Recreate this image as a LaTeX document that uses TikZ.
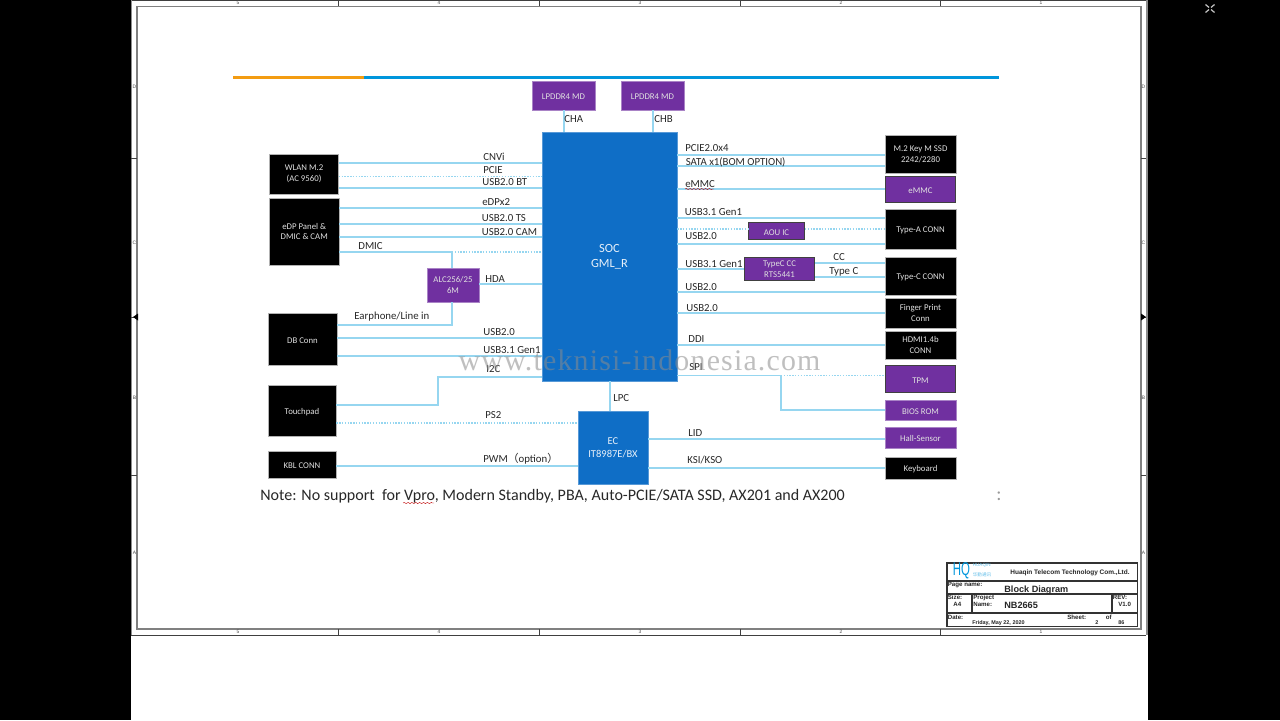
\documentclass[tikz,border=0pt]{standalone}
\usepackage{fontspec}
\setmainfont{Carlito}
\newfontfamily\arialfont{Liberation Sans}
\newfontfamily\markfont[LetterSpace=4]{Liberation Serif}
\newfontfamily\cjkfont{Noto Sans CJK SC}
\usetikzlibrary{calc, arrows.meta, decorations.pathmorphing}
\definecolor{socblue}{RGB}{15,110,198}
\definecolor{icpurple}{RGB}{112,48,160}
\definecolor{linkblue}{RGB}{150,214,240}
\definecolor{barblue}{RGB}{0,150,220}
\definecolor{barorange}{RGB}{243,156,18}
\definecolor{labelgray}{RGB}{40,40,40}
\tikzset{
    x=0.02cm, y=-0.02cm,
    link/.style={draw=linkblue, line width=0.7pt},
    dotlink/.style={link, dash pattern=on 0.8pt off 0.8pt},
    blackbox/.style={fill=black, text=white!88!black, draw=gray!60, line width=0.4pt, align=center, font=\fontsize{5}{6.2}\selectfont, execute at begin node={\rule{0pt}{5pt}}},
    purplebox/.style={blackbox, fill=icpurple, draw=icpurple!60},
    purpleedge/.style={purplebox, draw=black!75, line width=0.6pt},
    bluebox/.style={fill=socblue, draw=socblue!70, line width=0.4pt, text=white!90!socblue, align=center, execute at begin node={\rule{0pt}{6pt}}},
    siglabel/.style={anchor=west, inner sep=0pt, text=labelgray, font=\fontsize{6.15}{7}\selectfont},
    squiggle/.style={draw=red!75!black, line width=0.25pt, decorate, decoration={snake, amplitude=0.3pt, segment length=2.2pt}},
    framedraw/.style={draw=black!75, line width=0.45pt},
    zonetext/.style={inner sep=0pt, text=black!70, font=\fontsize{2.8}{3}\selectfont\arialfont},
    tbtext/.style={anchor=west, inner sep=0pt, text=black!85, font=\fontsize{3.5}{4}\selectfont\bfseries\arialfont},
    tbsmall/.style={tbtext, font=\fontsize{3.1}{3.6}\selectfont\bfseries\arialfont},
    tbbig/.style={tbtext, font=\fontsize{5.2}{6}\selectfont\bfseries\arialfont},
    tbline/.style={draw=black!80, line width=0.6pt}
}
% box from its corners, in reference pixels
\newcommand{\blockat}[6]{%
    \node[#1, inner sep=0pt, minimum width={(#4-#3)*0.02cm}, minimum height={(#6-#5)*0.02cm}] (#2) at ({(#3+#4)/2},{(#5+#6)/2})}
\begin{document}
\begin{tikzpicture}
    \useasboundingbox (0,0) rectangle (1280,720);
    \fill[black] (0,0) rectangle (1280,720);
    \fill[white] (131,0) rectangle (1148,720);

    % sheet frame
    \draw[framedraw] (131,0.5) -- (1146,0.5) (131,635) -- (1146,635);
    \draw[draw=black!50, line width=1.1pt] (137,6.5) rectangle (1141,629);
    \fill[black!45] (1146,0) rectangle (1148,635);
    \fill[black!45] (131,0) rectangle (132,635);
    \foreach \x in {338,539,740,940}{
        \draw[framedraw] (\x,0) -- (\x,6);
        \draw[framedraw] (\x,629) -- (\x,635);
    }
    \foreach \y in {158,317,475}{
        \draw[framedraw] (131,\y) -- (137,\y);
        \draw[framedraw] (1141,\y) -- (1146,\y);
    }
    \foreach \x/\t in {238/5,439/4,640/3,841/2,1041/1}{
        \node[zonetext] (top\t) at (\x,3) {\t};
        \node[zonetext] (bot\t) at (\x,632) {\t};
    }
    \foreach \y/\t in {87/D,243/C,398/B,553/A}{
        \node[zonetext] (lft\t) at (134.5,\y) {\t};
        \node[zonetext] (rgt\t) at (1143.5,\y) {\t};
    }
    \fill[black] (133,317) -- (138,313.5) -- (138,320.5) -- cycle;
    \fill[black] (1146,317) -- (1141,313.5) -- (1141,320.5) -- cycle;

    % corner icon on the dark side
    \foreach \sx/\sy in {-1/-1,1/-1,-1/1,1/1}{
        \draw[white!75!black, line width=0.7pt] (1210+\sx*1,8.5+\sy*1) -- (1210+\sx*4.5,8.5+\sy*4);
    }

    % title bars
    \draw[barorange, line width=2pt] (233,77.5) -- (364,77.5);
    \draw[barblue, line width=2pt] (364,77.5) -- (999,77.5);

    % left side boxes
    \blockat{blackbox}{wlan}{269.5}{338.5}{154}{194} {WLAN M.2\\(AC 9560)};
    \blockat{blackbox}{edp}{269.5}{339}{198}{265} {eDP Panel \&\\DMIC \& CAM};
    \blockat{purplebox}{alc}{427}{479}{268}{302} {ALC256/25\\6M};
    \blockat{blackbox}{dbconn}{268}{337}{313}{365} {DB Conn};
    \blockat{blackbox}{touchpad}{268}{336}{385}{436} {Touchpad};
    \blockat{blackbox}{kbl}{268}{336}{451}{478} {KBL CONN};

    % centre
    \blockat{bluebox, font=\fontsize{7.1}{8.5}\selectfont}{soc}{542}{677}{132}{381} {SOC\\GML\_R};
    \blockat{bluebox, font=\fontsize{6}{7.4}\selectfont}{ec}{578}{648}{411}{484} {EC\\IT8987E/BX};
    \blockat{purplebox}{cha}{532}{595}{81}{110} {LPDDR4 MD};
    \blockat{purplebox}{chb}{621}{684}{81}{110} {LPDDR4 MD};

    % right side boxes
    \blockat{blackbox}{ssd}{885}{956}{135}{173} {M.2 Key M SSD\\2242/2280};
    \blockat{purpleedge}{emmc}{885.5}{955.5}{176.5}{202.5} {eMMC};
    \blockat{blackbox}{typea}{885}{956}{209}{249} {Type-A CONN};
    \blockat{blackbox}{typec}{885}{956}{257}{295} {Type-C CONN};
    \blockat{blackbox}{finger}{885}{956}{298}{328} {Finger Print\\Conn};
    \blockat{blackbox}{hdmi}{885}{956}{331}{359} {HDMI1.4b\\CONN};
    \blockat{purpleedge}{tpm}{885.5}{955.5}{365.5}{392.5} {TPM};
    \blockat{purplebox}{bios}{885}{956}{400}{420} {BIOS ROM};
    \blockat{purplebox}{hall}{885}{956}{427}{448} {Hall-Sensor};
    \blockat{blackbox}{keyboard}{885}{956}{457}{479} {Keyboard};
    \blockat{purpleedge}{aou}{748.5}{804.5}{222.5}{239.5} {AOU IC};
    \blockat{purpleedge}{tcc}{744.5}{814.5}{257.5}{280.5} {TypeC CC\\RTS5441};

    % straight links, left to right
    \foreach \from/\to/\yy in {wlan/soc/163,wlan/soc/188,edp/soc/208,edp/soc/224,edp/soc/237,alc/soc/284,dbconn/soc/338,dbconn/soc/356,kbl/ec/466,
        soc/ssd/155,soc/ssd/166,soc/emmc/189,soc/typea/218,soc/typea/244,soc/tcc/269,tcc/typec/263,tcc/typec/277,soc/typec/292,soc/finger/313,soc/hdmi/345,
        ec/hall/439,ec/keyboard/468}{
        \draw[link] (\from.east |- 0,\yy) -- (\to.west |- 0,\yy);
    }
    \foreach \from/\to/\yy in {wlan/soc/176.5,touchpad/ec/423,soc/aou/229,aou/typea/229}{
        \draw[dotlink] (\from.east |- 0,\yy) -- (\to.west |- 0,\yy);
    }
    % bends and stubs
    \coordinate (dmicjoin) at (452,252);
    \coordinate (spijoin) at (781,375.5);
    \draw[link] (edp.east |- dmicjoin) -- (dmicjoin) -- (dmicjoin |- alc.north);
    \draw[dotlink] (dmicjoin) -- (soc.west |- dmicjoin);
    \draw[link] (alc.south -| dmicjoin) -- (dmicjoin |- 0,325) -- (dbconn.east |- 0,325);
    \draw[link] (soc.west |- 0,377) -- (438,377) -- (438,405) -- (touchpad.east |- 0,405);
    \draw[link] (soc.south -| 610,0) -- (ec.north -| 610,0);
    \draw[link] (cha.south -| 564,0) -- (soc.north -| 564,0);
    \draw[link] (chb.south -| 653,0) -- (soc.north -| 653,0);
    \draw[link] (soc.east |- spijoin) -- (spijoin) -- (spijoin |- bios.west) -- (bios.west);
    \draw[dotlink] (spijoin) -- (tpm.west |- spijoin);

    % signal names
    \foreach \n/\xx/\yy/\t in {lcnvi/483/157/CNVi,lpcie/483/170/PCIE,lbt/482/182/USB2.0 BT,ledp/482/202/eDPx2,lts/481.5/218/USB2.0 TS,lcam/481.5/232/USB2.0 CAM,
        ldmic/358/246/DMIC,lhda/485/279/HDA,lear/354/317/Earphone\slash Line in,lusb/483/332/USB2.0,lgen/483/350/USB3.1 Gen1,li2c/486/369/I2C,lps/485/415/PS2,
        lpwm/483/459/PWM{\cjkfont（}option{\cjkfont）},llpc/613/398/LPC,lcha/564/119/CHA,lchb/654/119/CHB,
        rpcie/685/148/PCIE2.0x4,rsata/685.5/162/SATA x1(BOM OPTION),remmc/685/184/eMMC,rgena/684.5/212/USB3.1 Gen1,rusba/685/236/USB2.0,rgenc/685/264/USB3.1 Gen1,
        rcc/833/257/CC,rtc/829/272/Type C,rusbc/685/287/USB2.0,rfp/686/308/USB2.0,rddi/688/339/DDI,rspi/689/367/SPI,rlid/688/433/LID,rksi/687/460/KSI\slash KSO}{
        \node[siglabel] (\n) at (\xx,\yy) {\t};
    }
    \draw[squiggle] (685,189) -- (714,189);

    % note line
    \node[anchor=west, inner sep=0pt, text=labelgray, font=\fontsize{9.12}{11}\selectfont] (note) at (260,496.5) {Note: No support\ \ for Vpro, Modern Standby, PBA, Auto-PCIE/SATA SSD, AX201 and AX200};
    \draw[squiggle] (403,503) -- (434,503);
    \node[inner sep=0pt, text=black!40, font=\fontsize{11}{12}\selectfont] (notemark) at (999,496) {:};

    % title block
    \draw[tbline] (947,563) rectangle (1137.5,626.5);
    \draw[tbline] (947,581) -- (1137.5,581) (947,594) -- (1137.5,594) (947,613) -- (1137.5,613);
    \draw[tbline] (972,594) -- (972,613) (1112,594) -- (1112,613);
    \node[inner sep=0pt, xscale=0.62, transform shape, text=barblue, font=\fontsize{10.5}{11}\selectfont\arialfont] (logo) at (961.5,571) {HQ};
    \node[anchor=west, inner sep=0pt, text=barblue!60, font=\fontsize{2.6}{3}\selectfont\arialfont] (logoen) at (972.5,565.5) {HUAQIN};
    \node[anchor=west, inner sep=0pt, text=barblue!60, font=\fontsize{2.6}{3}\selectfont\cjkfont] (logocn) at (972.5,575) {华勤通讯};
    \node[tbtext, font=\fontsize{3.7}{4}\selectfont\bfseries\arialfont] (company) at (1010,572.5) {Huaqin Telecom Technology Com.,Ltd.};
    \node[tbtext] (tpage) at (947.5,585) {Page name:};
    \node[tbbig] (tdiagram) at (1004,590) {Block Diagram};
    \node[tbtext] (tsize) at (947.5,597.5) {Size:};
    \node[tbtext] (tatext) at (953,604.5) {A4};
    \node[tbtext] (tproject) at (973,597.5) {Project};
    \node[tbtext] (tname) at (973,604) {Name:};
    \node[tbbig] (tboard) at (1004,605) {NB2665};
    \node[tbtext] (trev) at (1112.5,597.5) {REV:};
    \node[tbtext] (trevno) at (1118,604) {V1.0};
    \node[tbtext] (tdate) at (947.5,617) {Date:};
    \node[tbsmall] (tday) at (972,623) {Friday, May 22, 2020};
    \node[tbtext] (tsheet) at (1067,617) {Sheet:};
    \node[tbtext] (tof) at (1105.5,617) {of};
    \node[tbsmall] (tsheetno) at (1095,623) {2};
    \node[tbsmall] (tsheets) at (1118,623) {86};

    % watermark over everything
    \node[inner sep=0pt, text=black!45, opacity=0.55, font=\fontsize{17}{18}\selectfont\markfont] (watermark) at (639.5,360) {www.teknisi-indonesia.com};
\end{tikzpicture}
\end{document}
